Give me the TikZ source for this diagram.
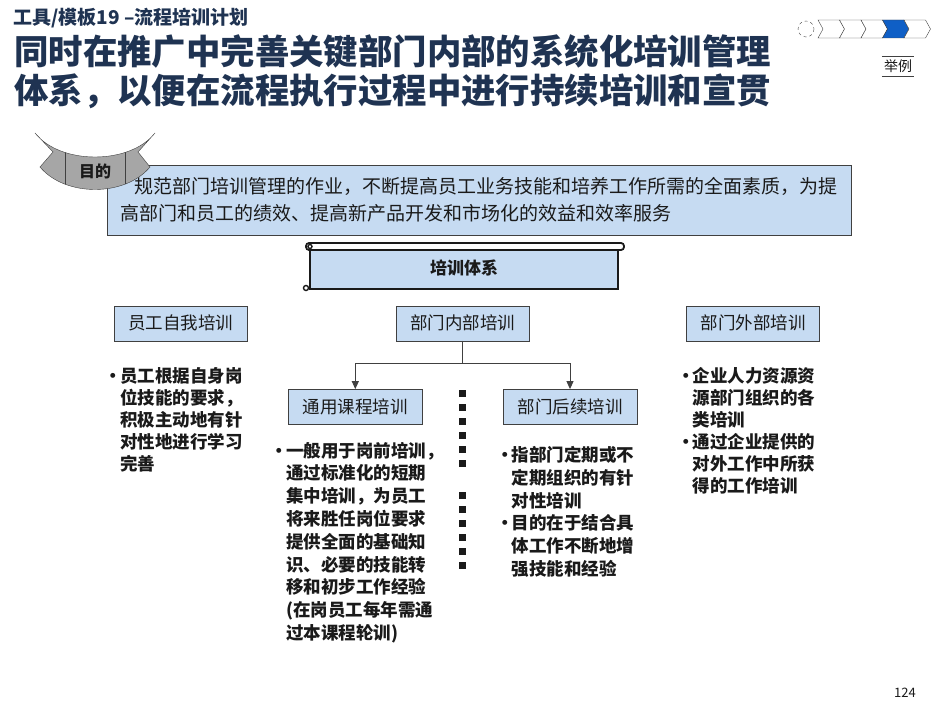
\documentclass[tikz,border=0pt]{standalone}
\usepackage{fontspec}
\setmainfont{Noto Sans CJK SC}
\usetikzlibrary{arrows.meta}
\definecolor{navy}{HTML}{1F3352}
\definecolor{boxblue}{HTML}{C6DBF2}
\definecolor{edge}{HTML}{404040}
\definecolor{ink}{HTML}{1A1A1A}
\definecolor{ribbongray}{HTML}{A6A6A6}
\definecolor{stepblue}{HTML}{0F5FC6}
\newcommand{\bul}{\makebox[15.5pt][l]{\textbullet}}
\newcommand{\ind}{\hspace*{15.5pt}}
\tikzset{
  levelbox/.style={draw=edge,fill=boxblue,minimum height=35pt,minimum width=133pt,inner sep=0pt,
    text=ink,font=\fontsize{17.5}{20}\selectfont},
  bullets/.style={anchor=base west,align=left,inner sep=0pt,text=ink,
    font=\bfseries\fontsize{17.5}{#1}\selectfont},
  link/.style={draw=edge,line width=1pt},
  tip/.style={-{Triangle[length=8pt,width=7pt]}}
}
\begin{document}
\begin{tikzpicture}[x=1pt,y=-1pt]
\useasboundingbox[fill=white] (0,0) rectangle (941,706);

\node[anchor=base west,inner sep=0pt,text=navy,font=\bfseries\fontsize{19}{22}\selectfont] (tool) at (13,24.5) {工具/模板19 –流程培训计划};
\node[anchor=base west,align=left,inner sep=0pt,text=navy,font=\bfseries\fontsize{34.4}{39}\selectfont] (title) at (14,103.5)
  {同时在推广中完善关键部门内部的系统化培训管理\\体系，以便在流程执行过程中进行持续培训和宣贯};

\draw[edge,dashed] (806,29) circle[radius=8];
\foreach \i/\c in {0/white,1/white,2/white,3/stepblue,4/white}
  \draw[edge,fill=\c] (818+\i*21.5,20) -- ++(21.5,0) -- ++(5,9) -- ++(-5,9) -- ++(-21.5,0) -- ++(5,-9) -- cycle;
\node[font=\fontsize{14}{16}\selectfont,text=ink,minimum width=32pt,minimum height=20pt,inner sep=0pt] (tag) at (898,66.5) {举例};
\draw[edge] (tag.north west) -- (tag.north east) (tag.south west) -- (tag.south east);

\node[draw=edge,fill=boxblue,minimum width=744pt,minimum height=70pt,align=left,text=ink,font=\fontsize{19}{27}\selectfont] (aim) at (479,200)
  {\hspace*{14pt}规范部门培训管理的作业，不断提高员工业务技能和培养工作所需的全面素质，为提\\高部门和员工的绩效、提高新产品开发和市场化的效益和效率服务};

\path[draw=edge,fill=ribbongray] (35,133) .. controls (60,165) and (130,165) .. (155,133) -- (138,152) -- (150,167)
  .. controls (125,197) and (65,197) .. (40,167) -- (53,152) -- cycle;
\begin{scope}
  \clip (35,133) .. controls (60,165) and (130,165) .. (155,133) -- (138,152) -- (150,167)
    .. controls (125,197) and (65,197) .. (40,167) -- (53,152) -- cycle;
  \draw[edge] (65,120) -- (65,200) (125,120) -- (125,200);
\end{scope}
\node[font=\bfseries\fontsize{16}{18}\selectfont,text=ink] (aimtag) at (95,171) {目的};

\node[draw=ink,line width=1.8pt,fill=boxblue,minimum width=308pt,minimum height=42pt,
  font=\bfseries\fontsize{17}{20}\selectfont,text=ink] (system) at (464,268) {培训体系};
\draw[ink,line width=1.8pt,fill=white,rounded corners=3pt] (306,243) rectangle (624,250);
\draw[ink,line width=1.4pt,fill=white] (306,288) circle[radius=2.5] (310,246.5) circle[radius=2];

\node[levelbox] (self) at (180.8,323.2) {员工自我培训};
\node[levelbox] (inner) at (462.7,323.2) {部门内部培训};
\node[levelbox] (outer) at (753,323.2) {部门外部培训};
\node[levelbox,minimum width=134pt] (common) at (355.3,406.8) {通用课程培训};
\node[levelbox,minimum width=134pt] (followup) at (570,406.8) {部门后续培训};

\draw[link] (inner.south) -- ++(0,23) coordinate (fork);
\draw[link,tip] (fork) -| (common.north);
\draw[link,tip] (fork) -| (followup.north);

\foreach \y in {393,407,421,435,449,463,495,509,523,537,551,565}
  \fill[ink] (459,\y-3.5) rectangle ++(7,7);

\node[bullets=22] (selftext) at (104.5,470.5)
  {\bul 员工根据自身岗\\\ind 位技能的要求，\\\ind 积极主动地有针\\\ind 对性地进行学习\\\ind 完善};
\node[bullets=22.8] (commontext) at (270.5,639.4)
  {\bul 一般用于岗前培训，\\\ind 通过标准化的短期\\\ind 集中培训，为员工\\\ind 将来胜任岗位要求\\\ind 提供全面的基础知\\\ind 识、必要的技能转\\\ind 移和初步工作经验\\\ind (在岗员工每年需通\\\ind 过本课程轮训)};
\node[bullets=22.8] (followtext) at (496,575.5)
  {\bul 指部门定期或不\\\ind 定期组织的有针\\\ind 对性培训\\\bul 目的在于结合具\\\ind 体工作不断地增\\\ind 强技能和经验};
\node[bullets=22] (outertext) at (677,492.5)
  {\bul 企业人力资源资\\\ind 源部门组织的各\\\ind 类培训\\\bul 通过企业提供的\\\ind 对外工作中所获\\\ind 得的工作培训};

\node[font=\fontsize{13}{15}\selectfont,text=ink] (page) at (905,693) {124};
\end{tikzpicture}
\end{document}
